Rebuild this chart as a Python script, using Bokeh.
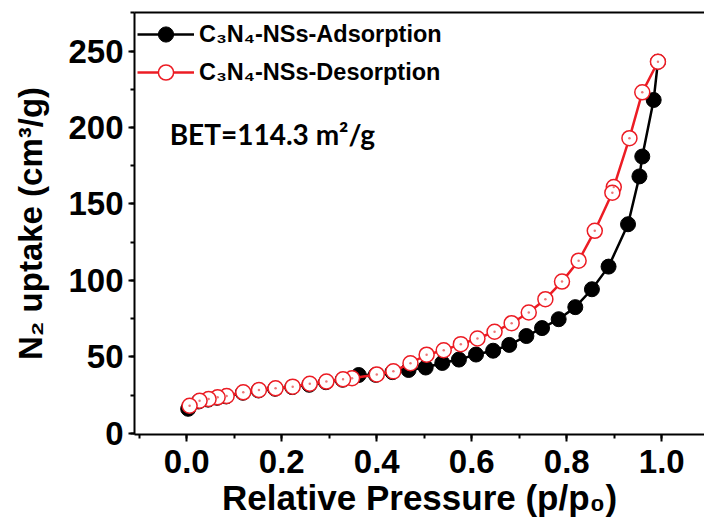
from bokeh.plotting import figure
from bokeh.models import (Range1d, LinearAxis, SingleIntervalTicker, FixedTicker,
                          Legend, LegendItem, Label, PrintfTickFormatter)
from bokeh.embed import file_html
from bokeh.resources import INLINE

# ---- data ----
ads_p = [0.003, 0.025, 0.045, 0.064, 0.083, 0.118, 0.151, 0.186, 0.222, 0.258, 0.293,
         0.328, 0.362, 0.398, 0.433, 0.467, 0.503, 0.538, 0.573, 0.609, 0.645, 0.679,
         0.715, 0.748, 0.783, 0.818, 0.853, 0.888, 0.929, 0.953, 0.959, 0.983, 0.992]
ads_v = [16.0, 20.8, 22.0, 23.2, 24.1, 26.5, 28.0, 29.1, 30.2, 31.7, 33.4,
         35.0, 38.1, 38.2, 40.0, 41.4, 43.0, 46.0, 48.2, 51.5, 54.0, 57.8,
         63.6, 68.8, 74.6, 82.5, 94.2, 109.0, 136.7, 168.0, 181.0, 218.0, 243.0]

des_p = [0.992, 0.959, 0.932, 0.899, 0.896, 0.859, 0.825, 0.790, 0.755, 0.720, 0.684,
         0.648, 0.612, 0.577, 0.541, 0.505, 0.471, 0.435, 0.400, 0.348, 0.329, 0.294,
         0.259, 0.223, 0.187, 0.152, 0.119, 0.084, 0.065, 0.046, 0.027, 0.006]
des_v = [243.0, 223.0, 193.0, 161.0, 157.3, 132.4, 112.9, 99.2, 87.7, 79.0, 72.0,
         66.4, 62.0, 58.3, 54.3, 51.4, 45.8, 40.5, 38.5, 36.0, 35.3, 33.8,
         32.4, 30.5, 29.4, 28.3, 26.8, 24.4, 23.5, 22.4, 21.3, 18.0]

series_labels = ["C\u2083N\u2084-NSs-Adsorption", "C\u2083N\u2084-NSs-Desorption"]
x_title = "Relative Pressure (p/p\u2080)"
y_title = "N\u2082 uptake (cm\u00b3/g)"
bet_text = "BET=114.3 m\u00b2/g"
bet_pos = (-0.036, 195.5)

RED = "#ec1c24"
FONT = "Liberation Sans"

p = figure(width=704, height=527, output_backend="svg", toolbar_location=None,
           x_range=Range1d(-0.110, 1.090), y_range=Range1d(-0.8, 275.2),
           x_axis_type=None, y_axis_type=None,
           min_border_left=134, min_border_right=0, min_border_top=12,
           min_border_bottom=93)
p.outline_line_color = None
p.background_fill_color = "white"
p.border_fill_color = "white"


def style_axis(ax):
    ax.axis_line_width = 2
    ax.axis_line_color = "black"
    ax.major_tick_line_width = 2
    ax.minor_tick_line_width = 2
    ax.major_tick_in = 0
    ax.minor_tick_in = 0
    ax.major_tick_out = 7
    ax.minor_tick_out = 4
    ax.major_label_text_font = FONT
    ax.major_label_text_font_style = "bold"
    ax.major_label_text_font_size = "33px"
    ax.major_label_text_color = "black"
    ax.axis_label_text_font = FONT
    ax.axis_label_text_font_style = "bold"
    ax.axis_label_text_color = "black"


xaxis = LinearAxis(ticker=SingleIntervalTicker(interval=0.2, num_minor_ticks=2),
                   formatter=PrintfTickFormatter(format="%.1f"),
                   axis_label=x_title)
style_axis(xaxis)
xaxis.axis_label_text_font_size = "35px"
xaxis.major_label_standoff = 8
xaxis.axis_label_standoff = 2
p.add_layout(xaxis, "below")

yaxis = LinearAxis(ticker=SingleIntervalTicker(interval=50, num_minor_ticks=2),
                   axis_label=y_title)
style_axis(yaxis)
yaxis.major_tick_out = 6
yaxis.axis_label_text_font_size = "33px"
yaxis.major_label_standoff = 5
yaxis.axis_label_standoff = 16
p.add_layout(yaxis, "left")

top = LinearAxis(ticker=FixedTicker(ticks=[]), major_label_text_font_size="0px",
                 major_tick_out=0, minor_tick_out=0, major_label_standoff=0,
                 axis_line_width=2)
p.add_layout(top, "above")

bl = p.line(ads_p, ads_v, line_color="black", line_width=2.5)
bs = p.scatter(ads_p, ads_v, size=15, fill_color="black", line_color="black")
rl = p.line(des_p, des_v, line_color=RED, line_width=2.5)
rs = p.scatter(des_p, des_v, size=15, fill_color="white", line_color=RED, line_width=1.5)
p.scatter(des_p, des_v, size=2.5, fill_color="#e77", line_color=None)

legend = Legend(items=[LegendItem(label=series_labels[0], renderers=[bl, bs]),
                       LegendItem(label=series_labels[1], renderers=[rl, rs])],
                location="top_left", margin=3, padding=4, spacing=-5,
                glyph_width=57, glyph_height=38, label_height=38, label_standoff=5,
                label_text_font=FONT, label_text_font_style="bold",
                label_text_font_size="23.5px", label_text_color="black",
                background_fill_alpha=0, border_line_color=None)
p.add_layout(legend)

p.add_layout(Label(x=bet_pos[0], y=bet_pos[1], text=bet_text, text_font="Lato",
                   text_font_style="bold", text_font_size="28px",
                   text_baseline="alphabetic", text_color="black"))

open("out.html", "w").write(file_html(p, INLINE))
